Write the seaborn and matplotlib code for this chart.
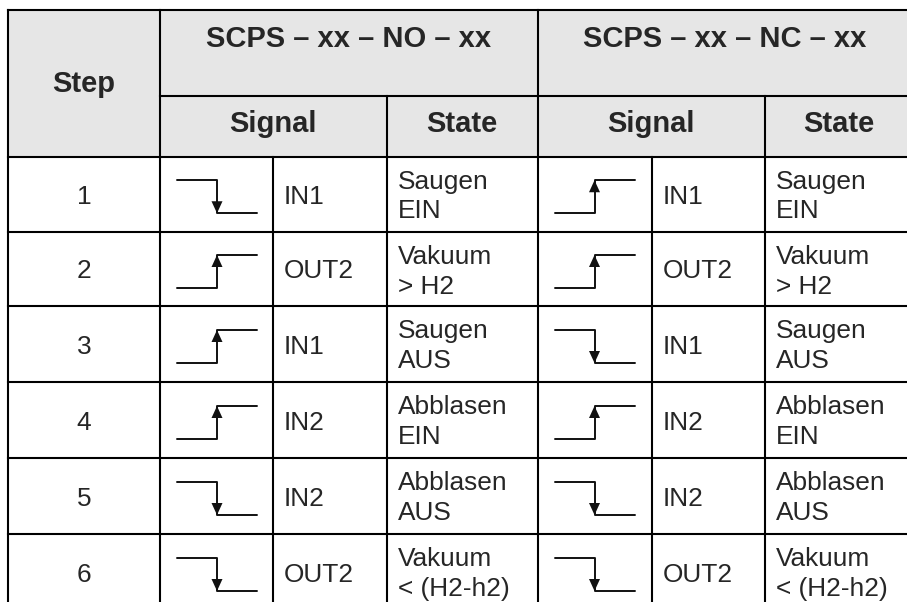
import matplotlib.pyplot as plt
import seaborn as sns

# table content
steps = [1, 2, 3, 4, 5, 6]
no_edges = ["fall", "rise", "rise", "rise", "fall", "fall"]
nc_edges = ["rise", "rise", "fall", "rise", "fall", "fall"]
signals = ["IN1", "OUT2", "IN1", "IN2", "IN2", "OUT2"]
state_top = ["Saugen", "Vakuum", "Saugen", "Abblasen", "Abblasen", "Vakuum"]
state_bottom = ["EIN", "> H2", "AUS", "EIN", "AUS", "< (H2-h2)"]
group_titles = ["SCPS – xx – NO – xx", "SCPS – xx – NC – xx"]
sub_titles = ["Signal", "State"]

# layout (pixels)
col_x = [8, 160, 273, 386.5, 537.5, 652, 765, 912]
y_top, y_mid, y_head = 10, 95.5, 156.5
row_y = [156.5, 232, 306, 382, 458, 534, 610]

sns.set_theme(style="white")
plt.rcParams["font.family"] = ["Liberation Sans", "DejaVu Sans"]

fig = plt.figure(figsize=(9.07, 6.02), dpi=100)
ax = fig.add_axes([0, 0, 1, 1])

# header background
ax.add_patch(plt.Rectangle((col_x[0], y_top), col_x[-1] - col_x[0], y_head - y_top,
                           facecolor="#e6e6e6", lw=0))

lw = 1.5
def hline(y, x0, x1):
    ax.plot([x0, x1], [y, y], color="black", lw=lw, solid_capstyle="projecting")

def vline(x, y0, y1):
    ax.plot([x, x], [y0, y1], color="black", lw=lw, solid_capstyle="projecting")

hline(y_top, col_x[0], col_x[-1])
hline(y_mid, col_x[1], col_x[-1])
for y in row_y:
    hline(y, col_x[0], col_x[-1])
for x in [col_x[0], col_x[1], col_x[4], col_x[7]]:
    vline(x, y_top, row_y[-1])
for x in [col_x[3], col_x[6]]:
    vline(x, y_mid, row_y[-1])
for x in [col_x[2], col_x[5]]:
    vline(x, y_head, row_y[-1])

# header text
hdr = dict(fontsize=21, fontweight="bold", ha="center", va="baseline")
ax.text((col_x[0] + col_x[1]) / 2, 92.5, "Step", **hdr)
ax.text((col_x[1] + col_x[4]) / 2, 47, group_titles[0], **hdr)
ax.text((col_x[4] + col_x[7]) / 2, 47, group_titles[1], **hdr)
ax.text((col_x[1] + col_x[3]) / 2, 131.5, sub_titles[0], **hdr)
ax.text((col_x[3] + col_x[4]) / 2, 131.5, sub_titles[1], **hdr)
ax.text((col_x[4] + col_x[6]) / 2, 131.5, sub_titles[0], **hdr)
ax.text((col_x[6] + col_x[7]) / 2, 131.5, sub_titles[1], **hdr)


def draw_edge(x0, yc, kind):
    xa, xb, xc = x0 + 17, x0 + 57, x0 + 97
    top, bot = yc - 14, yc + 19
    if kind == "fall":
        ys = [top, top, bot, bot]
        tip, base = bot, bot - 12
    else:
        ys = [bot, bot, top, top]
        tip, base = top, top + 12
    sns.lineplot(x=[xa, xb, xb, xc], y=ys, sort=False, estimator=None,
                 color="#111111", lw=1.4, ax=ax)
    ax.fill([xb - 5.5, xb + 5.5, xb], [base, base, tip], color="#111111", lw=0)


body = dict(fontsize=18.9, va="baseline")
for i, step in enumerate(steps):
    top = row_y[i]
    yc = (row_y[i] + row_y[i + 1]) / 2
    ax.text((col_x[0] + col_x[1]) / 2, yc + 9.5, str(step), ha="center", **body)
    for edges, c in [(no_edges, 1), (nc_edges, 4)]:
        draw_edge(col_x[c], yc, edges[i])
        ax.text(col_x[c + 1] + 11, yc + 9.5, signals[i], ha="left", **body)
        ax.text(col_x[c + 2] + 11, top + 32, state_top[i], ha="left", **body)
        ax.text(col_x[c + 2] + 11, top + 62, state_bottom[i], ha="left", **body)

ax.set_xlim(0, 907)
ax.set_ylim(602, 0)
ax.axis("off")

fig.savefig("out.png", dpi=100)
